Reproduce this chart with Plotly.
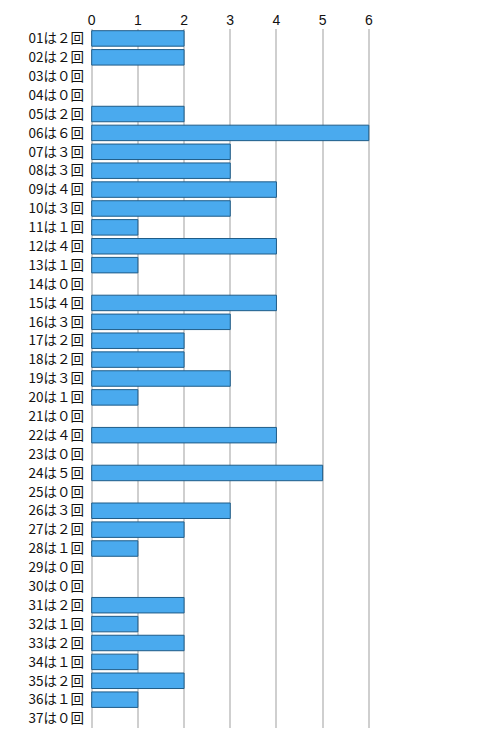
import plotly.graph_objects as go

numbers = [f"{i:02d}" for i in range(1, 38)]
counts = [2, 2, 0, 0, 2, 6, 3, 3, 4, 3, 1, 4, 1, 0, 4, 3, 2, 2, 3, 1,
          0, 4, 0, 5, 0, 3, 2, 1, 0, 0, 2, 1, 2, 1, 2, 1, 0]
fw = str.maketrans("0123456789", "０１２３４５６７８９")
labels = [f"{n}は{str(c).translate(fw)}回" for n, c in zip(numbers, counts)]
tick_vals = [0, 1, 2, 3, 4, 5, 6]

fig = go.Figure()
fig.add_trace(go.Bar(
    y=labels, x=counts, orientation="h",
    marker=dict(color="#4AAAEE",
                line=dict(color="#1F5C88", width=[1 if c > 0 else 0 for c in counts])),
    width=0.82,
))
fig.update_layout(
    width=479, height=738,
    margin=dict(l=88, r=64, t=29, b=10),
    paper_bgcolor="white", plot_bgcolor="white",
    font=dict(family="Noto Sans CJK JP, sans-serif", size=13, color="#111"),
    showlegend=False,
    xaxis=dict(side="top", range=[-0.08, 7.0], tickvals=tick_vals,
               showgrid=True, gridcolor="#CFCFCF", gridwidth=1.5,
               zeroline=False, showline=False, ticks="",
               tickfont=dict(family="Liberation Sans, Arial", size=14, color="#111")),
    yaxis=dict(autorange="reversed", showgrid=False, zeroline=False,
               showline=False, ticks="", ticksuffix=" ",
               tickfont=dict(size=13.5)),
)
fig.write_html("out.html")
